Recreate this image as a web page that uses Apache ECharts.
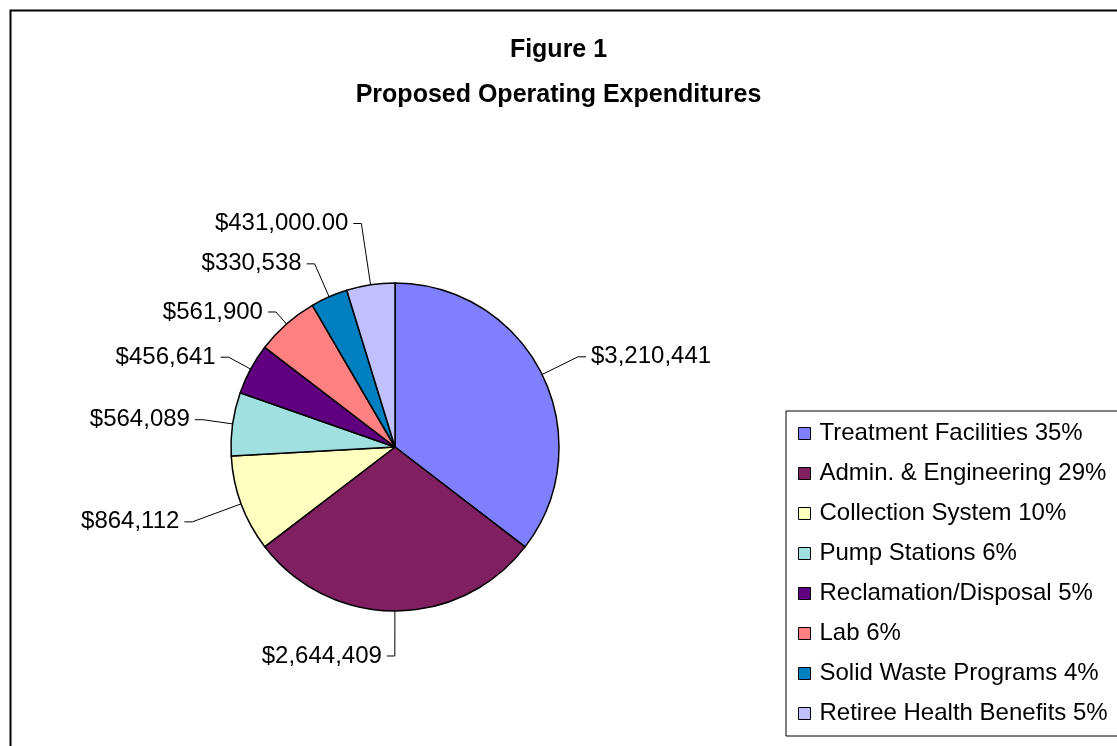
<!DOCTYPE html>
<html>
<head>
<meta charset="utf-8">
<script src="https://cdn.jsdelivr.net/npm/echarts@6/dist/echarts.min.js"></script>
<style>
html,body{margin:0;padding:0;background:#fff;}
#chart{width:1117px;height:746px;}
</style>
</head>
<body>
<div id="chart"></div>
<script>
const categories = ['Treatment Facilities','Admin. & Engineering','Collection System','Pump Stations','Reclamation/Disposal','Lab','Solid Waste Programs','Retiree Health Benefits'];
const values = [3210441, 2644409, 864112, 564089, 456641, 561900, 330538, 431000];
const valueLabels = ['$3,210,441','$2,644,409','$864,112','$564,089','$456,641','$561,900','$330,538','$431,000.00'];

// styling (not data)
const colors = ['#8080FF','#802060','#FFFFC0','#A0E0E0','#600080','#FF8080','#0080C0','#C0C0FF'];
const leaderLengths = [40, 45, 52, 30, 25, 16, 36, 62];

const total = values.reduce((a,b)=>a+b,0);
const chart = echarts.init(document.getElementById('chart'));
chart.setOption({
  animation:false,
  backgroundColor:'#fff',
  graphic:[{type:'rect',left:8,top:8,shape:{width:1300,height:900},style:{fill:'none',stroke:'#000',lineWidth:2}}],
  title:{
    text:'Figure 1\nProposed Operating Expenditures',
    left:'center', top:28, padding:[0,0,0,0],
    textStyle:{fontFamily:'Liberation Sans',fontWeight:'bold',fontSize:25,lineHeight:45,color:'#000'}
  },
  legend:{
    orient:'vertical', left:786, top:411,
    padding:[9,40,9,12],
    itemGap:13, itemWidth:12, itemHeight:12,
    icon:'rect',
    borderColor:'#000', borderWidth:1,
    backgroundColor:'#fff',
    itemStyle:{borderColor:'#000',borderWidth:1},
    textStyle:{fontFamily:'Liberation Sans',fontSize:24,lineHeight:27,color:'#000',padding:[0,0,0,4]},
    formatter:function(name){
      const i = categories.indexOf(name);
      return name + ' ' + Math.round(values[i]/total*100) + '%';
    },
    data:categories
  },
  series:[{
    type:'pie',
    center:[395,447],
    radius:164,
    startAngle:90,
    clockwise:true,
    avoidLabelOverlap:true,
    itemStyle:{borderColor:'#000',borderWidth:1.5},
    label:{
      show:true, position:'outside',
      fontFamily:'Liberation Sans', fontSize:24, color:'#000',
      formatter:function(p){return valueLabels[p.dataIndex];}
    },
    labelLine:{show:true,length:34,length2:8,lineStyle:{color:'#000',width:1}},
    emphasis:{disabled:true},
    data:categories.map((c,i)=>({
      name:c, value:values[i],
      itemStyle:{color:colors[i]},
      labelLine:{length:leaderLengths[i]}
    }))
  }]
});
</script>
</body>
</html>
